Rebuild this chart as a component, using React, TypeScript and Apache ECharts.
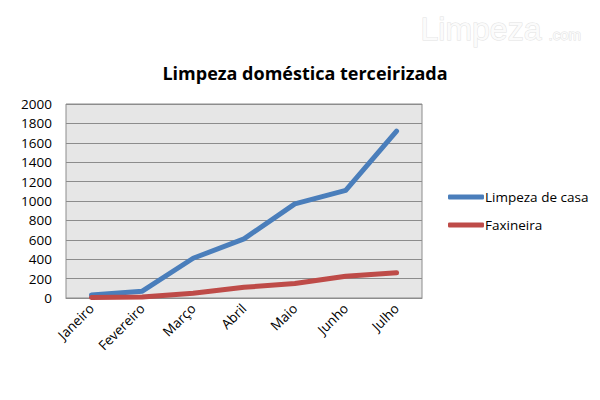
import React, { useEffect, useRef } from "react";
import * as echarts from "echarts";

const categories = ["Janeiro", "Fevereiro", "Março", "Abril", "Maio", "Junho", "Julho"];
const limpezaDeCasa = [30, 70, 410, 610, 970, 1110, 1720];
const faxineira = [5, 10, 50, 110, 150, 225, 260];
const seriesNames = ["Limpeza de casa", "Faxineira"];
const titleText = "Limpeza doméstica terceirizada";

export default function App() {
  const ref = useRef<HTMLDivElement>(null);
  useEffect(() => {
    if (!ref.current) return;
    const chart = echarts.init(ref.current, undefined, { renderer: "svg" });
    const font = "'Open Sans', 'Noto Sans', sans-serif";
    chart.setOption({
      animation: false,
      backgroundColor: "#ffffff",
      title: {
        text: titleText,
        left: 300,
        textAlign: "center",
        top: 59,
        textStyle: { fontFamily: font, fontSize: 18, fontWeight: "bold", color: "#000" },
      },
      graphic: [
        {
          type: "text",
          left: 420,
          top: 12,
          style: {
            text: "Limpeza",
            fontFamily: "'Liberation Sans', sans-serif",
            fontSize: 32,
            fill: "#fbfbfb",
            stroke: "#e2e2e2",
            lineWidth: 1,
          },
        },
        {
          type: "text",
          left: 548,
          top: 26,
          style: {
            text: ".com",
            fontFamily: "'Liberation Sans', sans-serif",
            fontSize: 15,
            fill: "#fbfbfb",
            stroke: "#e2e2e2",
            lineWidth: 1,
          },
        },
      ],
      legend: {
        orient: "vertical",
        left: 443,
        top: 185,
        itemGap: 14,
        itemWidth: 36,
        itemHeight: 5,
        icon: "roundRect",
        textStyle: { fontFamily: font, fontSize: 13.5, color: "#000", padding: [0, 0, 0, -4] },
        data: seriesNames,
      },
      grid: {
        left: 66,
        right: 178,
        top: 104,
        bottom: 102,
        show: true,
        backgroundColor: "#e6e6e6",
        borderColor: "#8c8c8c",
        borderWidth: 1,
      },
      xAxis: {
        type: "category",
        data: categories,
        boundaryGap: true,
        axisLine: { lineStyle: { color: "#8c8c8c" } },
        axisTick: { show: false },
        axisLabel: {
          rotate: 45,
          fontFamily: font,
          fontSize: 13.5,
          color: "#000",
          margin: 8,
          interval: 0,
        },
      },
      yAxis: {
        type: "value",
        min: 0,
        max: 2000,
        interval: 200,
        axisLine: { show: false },
        axisTick: { show: false },
        axisLabel: {
          fontFamily: font,
          fontSize: 13.5,
          color: "#000",
          margin: 14,
          formatter: (v: number) => String(v),
        },
        splitLine: { lineStyle: { color: "#8c8c8c", width: 1 } },
      },
      series: [
        {
          name: seriesNames[0],
          type: "line",
          data: limpezaDeCasa,
          showSymbol: false,
          symbol: "none",
          lineStyle: { color: "#4a7ebb", width: 5, cap: "round", join: "round" },
          itemStyle: { color: "#4a7ebb" },
        },
        {
          name: seriesNames[1],
          type: "line",
          data: faxineira,
          showSymbol: false,
          symbol: "none",
          lineStyle: { color: "#be4b48", width: 5, cap: "round", join: "round" },
          itemStyle: { color: "#be4b48" },
        },
      ],
    });
    return () => chart.dispose();
  }, []);
  return <div ref={ref} style={{ width: 600, height: 400, position: "absolute", left: 0, top: 0 }} />;
}
